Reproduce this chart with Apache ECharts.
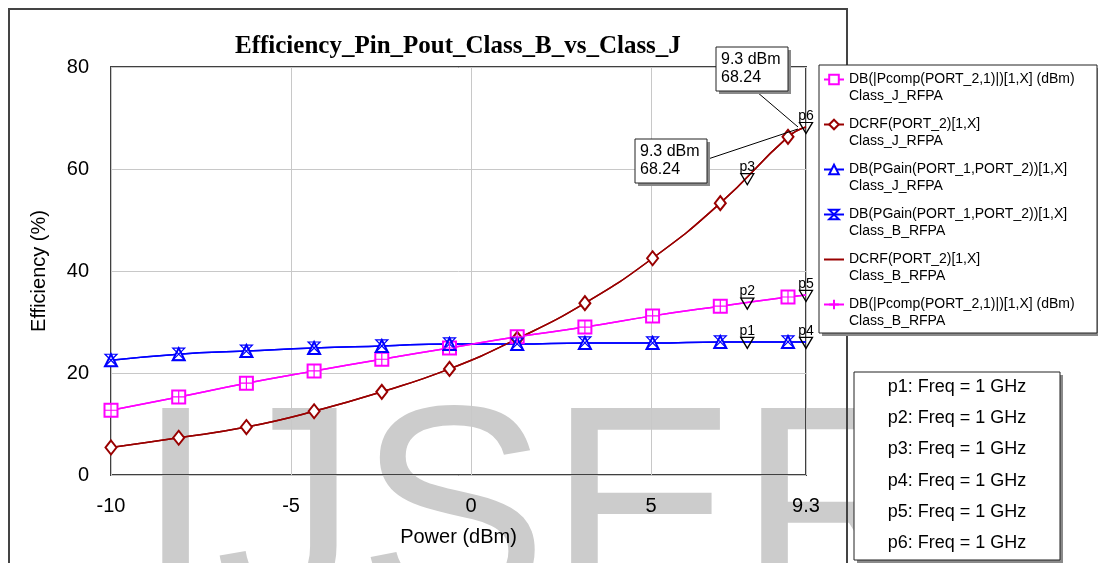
<!DOCTYPE html>
<html>
<head>
<meta charset="utf-8">
<script src="https://cdn.jsdelivr.net/npm/echarts@6/dist/echarts.min.js"></script>
<style>
html, body { margin: 0; padding: 0; background: #fff; }
#chart { width: 1098px; height: 563px; }
</style>
</head>
<body>
<div id="chart"></div>
<script>
var chart = echarts.init(document.getElementById('chart'));

// input power sweep (dBm), read at the plotted symbols + end of sweep
var power = [-10, -8.12, -6.24, -4.36, -2.48, -0.6, 1.28, 3.16, 5.04, 6.92, 8.8, 9.3];

// Class J traces
var pcompJ = [12.7, 15.3, 18.0, 20.4, 22.7, 24.9, 27.1, 29.0, 31.2, 33.1, 34.9, 35.3];
var dcrfJ  = [5.4, 7.3, 9.4, 12.5, 16.3, 20.8, 26.7, 33.7, 42.5, 53.3, 66.3, 68.24];
var pgainJ = [22.5, 23.7, 24.3, 24.9, 25.3, 25.7, 25.7, 25.9, 25.9, 26.1, 26.1, 26.1];

// Class B traces (drawn on top of the Class J ones)
var pcompB = [12.7, 15.3, 18.0, 20.4, 22.7, 24.9, 27.1, 29.0, 31.2, 33.1, 34.9, 35.3];
var dcrfB  = [5.4, 7.3, 9.4, 12.5, 16.3, 20.8, 26.7, 33.7, 42.5, 53.3, 66.3, 68.24];
var pgainB = [22.5, 23.7, 24.3, 24.9, 25.3, 25.7, 25.7, 25.9, 25.9, 26.1, 26.1, 26.1];

// markers p1..p6
var markerNames = ['p1', 'p2', 'p3', 'p4', 'p5', 'p6'];
var markerX = [7.67, 7.67, 7.67, 9.3, 9.3, 9.3];
var markerY = [26.1, 33.8, 58.2, 26.1, 35.3, 68.24];
var markerFreq = ['1 GHz', '1 GHz', '1 GHz', '1 GHz', '1 GHz', '1 GHz'];

var names = [
    'DB(|Pcomp(PORT_2,1)|)[1,X] (dBm)\nClass_J_RFPA',
    'DCRF(PORT_2)[1,X]\nClass_J_RFPA',
    'DB(PGain(PORT_1,PORT_2))[1,X]\nClass_J_RFPA',
    'DB(PGain(PORT_1,PORT_2))[1,X]\nClass_B_RFPA',
    'DCRF(PORT_2)[1,X]\nClass_B_RFPA',
    'DB(|Pcomp(PORT_2,1)|)[1,X] (dBm)\nClass_B_RFPA'
];

var MAGENTA = '#ff00ff', DARKRED = '#990000', BLUE = '#0000ff';
var FONT = 'Liberation Sans, Arial, sans-serif';

function toData(ys) {
    return ys.map(function (v, i) {
        // no symbol on the sweep end point
        if (i === ys.length - 1) return { value: [power[i], v], symbol: 'none' };
        return [power[i], v];
    });
}

// mode: 'outline' strokes a path symbol, 'hidden' draws no symbol (legend too)
function trace(name, ys, color, symbol, size, mode) {
    var itemStyle = { color: color, borderWidth: 1.2 };
    if (mode === 'outline') itemStyle = { color: 'rgba(0,0,0,0)', borderColor: color, borderWidth: 1.2 };
    if (mode === 'hidden') itemStyle = { color: 'rgba(0,0,0,0)', borderColor: 'rgba(0,0,0,0)', borderWidth: 0 };
    return {
        name: name,
        type: 'line',
        data: toData(ys),
        smooth: true,
        symbol: symbol,
        symbolSize: size,
        showSymbol: true,
        lineStyle: { color: color, width: 1.5 },
        itemStyle: itemStyle,
        emphasis: { disabled: true }
    };
}

var option = {
    animation: false,
    title: {
        text: 'Efficiency_Pin_Pout_Class_B_vs_Class_J',
        left: 230,
        top: 29,
        textStyle: { fontFamily: 'Liberation Serif, Times New Roman, serif', fontWeight: 'bold', fontSize: 25, color: '#000' }
    },
    legend: {
        data: names,
        orient: 'vertical',
        left: 823,
        top: 54,
        padding: 0,
        itemWidth: 20,
        itemHeight: 12,
        itemGap: -6,
        selectedMode: false,
        // blank first line keeps the icon level with the trace name
        formatter: function (n) { return '\n' + n; },
        textStyle: { fontFamily: FONT, fontSize: 14, lineHeight: 17, color: '#000' }
    },
    grid: {
        left: 111, right: 292, top: 67, bottom: 88,
        show: true, borderColor: '#404040', borderWidth: 2
    },
    xAxis: {
        type: 'value',
        min: -10, max: 9.3, interval: 5,
        name: 'Power (dBm)', nameLocation: 'middle', nameGap: 52,
        nameTextStyle: { fontFamily: FONT, fontSize: 20, color: '#000' },
        axisLine: { show: false },
        axisTick: { show: false },
        axisLabel: { fontFamily: FONT, fontSize: 20, color: '#000', margin: 21 },
        splitLine: { lineStyle: { color: '#c8c8c8', width: 1 } }
    },
    yAxis: {
        type: 'value',
        min: 0, max: 80, interval: 20,
        name: 'Efficiency (%)', nameLocation: 'middle', nameGap: 62,
        nameTextStyle: { fontFamily: FONT, fontSize: 20, color: '#000' },
        axisLine: { show: false },
        axisTick: { show: false },
        axisLabel: { fontFamily: FONT, fontSize: 20, color: '#000', margin: 22 },
        splitLine: { lineStyle: { color: '#c8c8c8', width: 1 } }
    },
    series: [
        trace(names[0], pcompJ, MAGENTA, 'emptyRect', 13),
        trace(names[1], dcrfJ, DARKRED, 'emptyDiamond', [11, 14]),
        trace(names[2], pgainJ, BLUE, 'emptyTriangle', 12),
        trace(names[3], pgainB, BLUE, 'path://M0,0 L10,0 L0,10 L10,10 Z', 12, 'outline'),
        trace(names[4], dcrfB, DARKRED, 'none', 0, 'hidden'),
        trace(names[5], pcompB, MAGENTA, 'path://M5,0 L5,10 M0,5 L10,5', 13, 'outline'),
        {
            name: 'markers',
            type: 'scatter',
            z: 5,
            data: markerX.map(function (x, i) { return { value: [x, markerY[i]], name: markerNames[i] }; }),
            symbol: 'path://M0,0 L10,0 L5,8 Z',
            symbolSize: [13, 11],
            symbolOffset: [0, 1],
            itemStyle: { color: 'rgba(255,255,255,0)', borderColor: '#000', borderWidth: 1.3, opacity: 1 },
            label: {
                show: true, position: 'top', distance: -1,
                formatter: '{b}', fontFamily: FONT, fontSize: 14, color: '#000',
                textBorderWidth: 0, opacity: 1
            },
            emphasis: { disabled: true }
        }
    ]
};

chart.setOption(option);

// annotations & frames, placed after layout so they can follow marker p6
var p6 = chart.convertToPixel({ seriesIndex: 6 }, [markerX[5], markerY[5]]);

function box(x, y, w, h, shadow) {
    return [
        { type: 'rect', z: 50, silent: true, shape: { x: x + shadow, y: y + shadow, width: w, height: h }, style: { fill: '#8a8a8a' } },
        { type: 'rect', z: 51, silent: true, shape: { x: x, y: y, width: w, height: h }, style: { fill: '#fff', stroke: '#222', lineWidth: 1 } }
    ];
}

function readout(x, y, text) {
    return box(x, y, 72, 44, 3).concat([{
        type: 'text', z: 52, silent: true, x: x + 5, y: y + 22,
        style: { text: text, fontFamily: FONT, fontSize: 16, lineHeight: 18, fill: '#000', verticalAlign: 'middle' }
    }]);
}

var graphics = [
    // watermark
    {
        type: 'text', z: -1, silent: true, x: 136, y: 383,
        style: { text: 'IJSER', fontFamily: FONT, fontSize: 285, fill: '#cccccc', verticalAlign: 'top' }
    },
    // outer plot frame
    {
        type: 'rect', z: 1, silent: true,
        shape: { x: 9, y: 9, width: 838, height: 600 },
        style: { fill: 'none', stroke: '#444', lineWidth: 2 }
    },
    // leader lines to p6
    { type: 'line', z: 49, silent: true, shape: { x1: 757, y1: 92, x2: p6[0] - 8, y2: p6[1] }, style: { stroke: '#000', lineWidth: 1 } },
    { type: 'line', z: 49, silent: true, shape: { x1: 708, y1: 159, x2: p6[0] - 8, y2: p6[1] + 2 }, style: { stroke: '#000', lineWidth: 1 } }
];

graphics = graphics
    .concat(readout(716, 47, markerX[5] + ' dBm\n' + markerY[5].toFixed(2)))
    .concat(readout(635, 139, markerX[5] + ' dBm\n' + markerY[5].toFixed(2)))
    // legend frame
    .concat(box(819, 65, 278, 268, 3).map(function (g) { g.z = g.z - 48; return g; }));

// marker frequency box
graphics = graphics.concat(box(854, 372, 206, 188, 3));
markerNames.forEach(function (n, i) {
    graphics.push({
        type: 'text', z: 52, silent: true, x: 957, y: 387 + i * 31.2,
        style: { text: n + ': Freq = ' + markerFreq[i], fontFamily: FONT, fontSize: 18, fill: '#000', align: 'center', verticalAlign: 'middle' }
    });
});

chart.setOption({ graphic: graphics });
</script>
</body>
</html>
